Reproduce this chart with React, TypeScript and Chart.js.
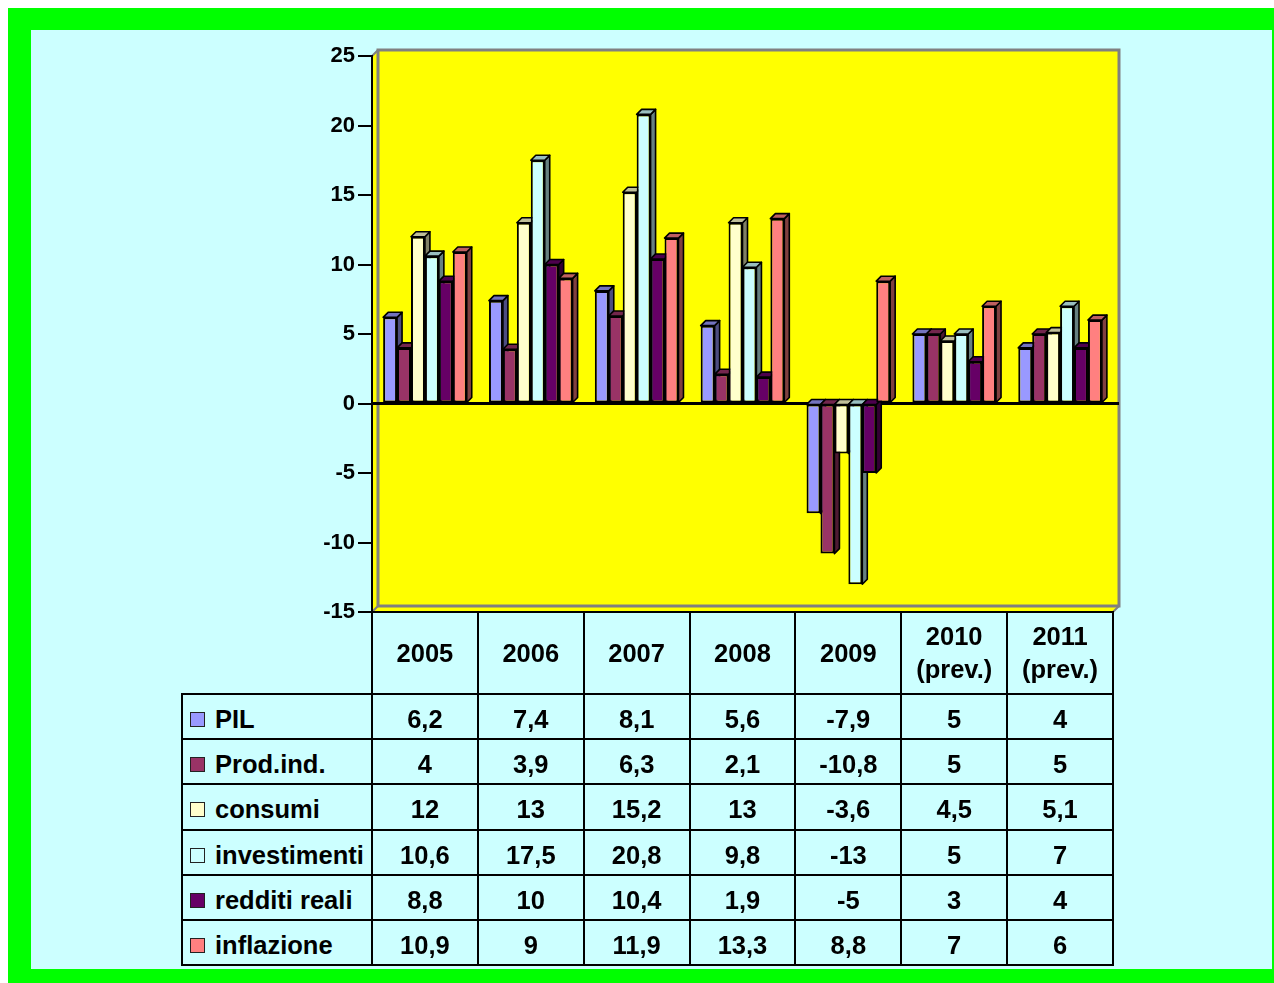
import React, { useEffect, useRef } from "react";
import { Chart, registerables } from "chart.js";

Chart.register(...registerables);

const categories = ["2005", "2006", "2007", "2008", "2009", "2010\n(prev.)", "2011\n(prev.)"];
const seriesNames = ["PIL", "Prod.ind.", "consumi", "investimenti", "redditi reali", "inflazione"];
const pil = [6.2, 7.4, 8.1, 5.6, -7.9, 5, 4];
const prodInd = [4, 3.9, 6.3, 2.1, -10.8, 5, 5];
const consumi = [12, 13, 15.2, 13, -3.6, 4.5, 5.1];
const investimenti = [10.6, 17.5, 20.8, 9.8, -13, 5, 7];
const redditiReali = [8.8, 10, 10.4, 1.9, -5, 3, 4];
const inflazione = [10.9, 9, 11.9, 13.3, 8.8, 7, 6];
const seriesValues = [pil, prodInd, consumi, investimenti, redditiReali, inflazione];
const seriesColors = ["#9999FF", "#993366", "#FFFFCC", "#CCFFFF", "#660066", "#FF8080"];
const yTicks = [-15, -10, -5, 0, 5, 10, 15, 20, 25];

const FONT = "'Liberation Sans', Arial, Helvetica, sans-serif";

// layout constants
const AREA_LEFT = 372;
const AREA_RIGHT = 1113;
const AREA_TOP = 56;
const AREA_BOTTOM = 612;
const CANVAS_W = 1274;
const CANVAS_H = 640;
const WALL_D = 6;
const BAR_D = 5;
const TABLE_LEFT = 182;
const HEADER_BOTTOM = 694;
const TABLE_BOTTOM = 965;

function shade(hex: string, f: number) {
  const n = parseInt(hex.slice(1), 16);
  const r = Math.round(((n >> 16) & 255) * f);
  const g = Math.round(((n >> 8) & 255) * f);
  const b = Math.round((n & 255) * f);
  return `rgb(${r},${g},${b})`;
}

function poly(ctx: CanvasRenderingContext2D, pts: number[][]) {
  ctx.beginPath();
  ctx.moveTo(pts[0][0], pts[0][1]);
  for (let i = 1; i < pts.length; i++) ctx.lineTo(pts[i][0], pts[i][1]);
  ctx.closePath();
}

const threeD = {
  id: "threeD",
  beforeDraw(chart: any) {
    const { ctx, chartArea: a } = chart;
    const d = WALL_D;
    ctx.save();
    ctx.fillStyle = "#FFFF00";
    ctx.fillRect(a.left + d, a.top - d, a.right - a.left, a.bottom - a.top);
    poly(ctx, [[a.left, a.top], [a.left + d, a.top - d], [a.left + d, a.bottom - d], [a.left, a.bottom]]);
    ctx.fill();
    poly(ctx, [[a.left, a.bottom], [a.right, a.bottom], [a.right + d, a.bottom - d], [a.left + d, a.bottom - d]]);
    ctx.fill();
    ctx.strokeStyle = "#808080";
    ctx.lineWidth = 3;
    ctx.strokeRect(a.left + d, a.top - d, a.right - a.left, a.bottom - a.top);
    ctx.lineWidth = 2;
    ctx.beginPath();
    ctx.moveTo(a.left, a.top); ctx.lineTo(a.left + d, a.top - d);
    ctx.moveTo(a.left, a.bottom); ctx.lineTo(a.left + d, a.bottom - d);
    ctx.moveTo(a.right, a.bottom); ctx.lineTo(a.right + d, a.bottom - d);
    ctx.stroke();
    ctx.strokeStyle = "#000";
    ctx.lineWidth = 2;
    ctx.beginPath();
    ctx.moveTo(a.left, a.bottom); ctx.lineTo(a.right, a.bottom);
    ctx.stroke();
    ctx.restore();
  },
  beforeDatasetsDraw(chart: any) {
    const { ctx, chartArea: a } = chart;
    const y0 = chart.scales.y.getPixelForValue(0);
    ctx.save();
    ctx.strokeStyle = "#000";
    ctx.lineWidth = 3;
    ctx.beginPath();
    ctx.moveTo(a.left, y0);
    ctx.lineTo(a.right + WALL_D, y0);
    ctx.stroke();
    const bars: any[] = [];
    chart.data.datasets.forEach((ds: any, i: number) => {
      const meta = chart.getDatasetMeta(i);
      meta.data.forEach((el: any) => {
        const p = el.getProps(["x", "y", "base", "width"], true);
        bars.push({ ...p, color: ds.backgroundColor });
      });
    });
    ctx.lineWidth = 1.6;
    ctx.lineJoin = "round";
    for (const b of bars) {
      const r = b.x + b.width / 2;
      const t = Math.min(b.y, b.base), bt = Math.max(b.y, b.base);
      poly(ctx, [[r, t], [r + BAR_D, t - BAR_D], [r + BAR_D, bt - BAR_D], [r, bt]]);
      ctx.fillStyle = shade(b.color, 0.5);
      ctx.fill();
      ctx.stroke();
    }
    for (const b of bars) {
      const l = b.x - b.width / 2, r = b.x + b.width / 2;
      const t = Math.min(b.y, b.base);
      poly(ctx, [[l, t], [l + BAR_D, t - BAR_D], [r + BAR_D, t - BAR_D], [r, t]]);
      ctx.fillStyle = shade(b.color, 0.75);
      ctx.fill();
      ctx.stroke();
    }
    ctx.restore();
  },
};

function fmt(v: number) {
  return String(v).replace(".", ",");
}

export default function App() {
  const ref = useRef<HTMLCanvasElement>(null);

  useEffect(() => {
    const chart = new Chart(ref.current!, {
      type: "bar",
      data: {
        labels: categories,
        datasets: seriesNames.map((name, i) => ({
          label: name,
          data: seriesValues[i],
          backgroundColor: seriesColors[i],
          borderColor: "#000",
          borderWidth: 2,
          borderSkipped: false,
          barPercentage: 1,
          categoryPercentage: 0.79,
        })),
      },
      options: {
        animation: false,
        responsive: false,
        devicePixelRatio: 1,
        events: [],
        layout: {
          padding: {
            left: AREA_LEFT - 60,
            right: CANVAS_W - AREA_RIGHT,
            top: AREA_TOP,
            bottom: CANVAS_H - AREA_BOTTOM,
          },
        },
        plugins: { legend: { display: false }, tooltip: { enabled: false } },
        scales: {
          x: { display: false },
          y: {
            min: -15,
            max: 25,
            afterFit: (axis: any) => { axis.width = 60; },
            afterBuildTicks: (axis: any) => { axis.ticks = yTicks.map((v) => ({ value: v })); },
            border: { display: true, color: "#000", width: 2 },
            grid: { drawOnChartArea: false, drawTicks: true, tickLength: 14, color: "#000", lineWidth: 2 },
            ticks: {
              color: "#000",
              padding: 3,
              font: { family: FONT, size: 22, weight: "bold" },
            },
          },
        },
      },
      plugins: [threeD],
    } as any);
    return () => chart.destroy();
  }, []);

  const colW = (AREA_RIGHT - AREA_LEFT) / categories.length;
  const colX = categories.map((_, i) => AREA_LEFT + i * colW);
  const rowH = (TABLE_BOTTOM - HEADER_BOTTOM) / seriesNames.length;
  const rowY = seriesNames.map((_, i) => HEADER_BOTTOM + i * rowH);
  const line = "#000";

  const lines: React.ReactNode[] = [];
  lines.push(<div key="h-top" style={{ position: "absolute", left: AREA_LEFT - 1, top: AREA_BOTTOM - 1, width: AREA_RIGHT - AREA_LEFT + 2, height: 2, background: line }} />);
  for (let i = 0; i <= seriesNames.length; i++) {
    const y = HEADER_BOTTOM + i * rowH;
    lines.push(<div key={"h" + i} style={{ position: "absolute", left: TABLE_LEFT - 1, top: Math.round(y) - 1, width: AREA_RIGHT - TABLE_LEFT + 2, height: 2, background: line }} />);
  }
  lines.push(<div key="v-left" style={{ position: "absolute", left: TABLE_LEFT - 1, top: HEADER_BOTTOM - 1, width: 2, height: TABLE_BOTTOM - HEADER_BOTTOM + 2, background: line }} />);
  for (let i = 0; i <= categories.length; i++) {
    const x = AREA_LEFT + i * colW;
    lines.push(<div key={"v" + i} style={{ position: "absolute", left: Math.round(x) - 1, top: AREA_BOTTOM - 1, width: 2, height: TABLE_BOTTOM - AREA_BOTTOM + 2, background: line }} />);
  }

  const textStyle: React.CSSProperties = {
    position: "absolute",
    display: "flex",
    alignItems: "center",
    justifyContent: "center",
    fontFamily: FONT,
    fontWeight: "bold",
    fontSize: 25.5,
    color: "#000",
    textAlign: "center",
  };

  return (
    <div style={{ position: "fixed", left: 0, top: 0, width: 1274, height: 983, overflow: "hidden" }}>
      <div
        style={{
          position: "absolute",
          left: 8,
          top: 8,
          width: 1266,
          height: 975,
          boxSizing: "border-box",
          background: "#CCFFFF",
          borderStyle: "solid",
          borderColor: "#00FF00",
          borderLeftWidth: 23,
          borderTopWidth: 22,
          borderRightWidth: 2,
          borderBottomWidth: 14,
        }}
      />
      <canvas ref={ref} width={CANVAS_W} height={CANVAS_H} style={{ position: "absolute", left: 0, top: 0, width: CANVAS_W, height: CANVAS_H }} />
      {lines}
      {categories.map((c, i) => (
        <div key={"c" + i} style={{ ...textStyle, left: colX[i], top: AREA_BOTTOM, width: colW, height: HEADER_BOTTOM - AREA_BOTTOM, whiteSpace: "pre-line", lineHeight: "33px" }}>
          {c}
        </div>
      ))}
      {seriesNames.map((s, r) => (
        <React.Fragment key={"r" + r}>
          <div style={{ ...textStyle, justifyContent: "flex-start", left: TABLE_LEFT + 8, top: rowY[r] + 3, height: rowH }}>
            <span style={{ display: "inline-block", width: 13, height: 13, background: seriesColors[r], border: "1.5px solid #222", marginRight: 10 }} />
            {s}
          </div>
          {seriesValues[r].map((v, c) => (
            <div key={c} style={{ ...textStyle, left: colX[c], top: rowY[r] + 3, width: colW, height: rowH }}>
              {fmt(v)}
            </div>
          ))}
        </React.Fragment>
      ))}
    </div>
  );
}
